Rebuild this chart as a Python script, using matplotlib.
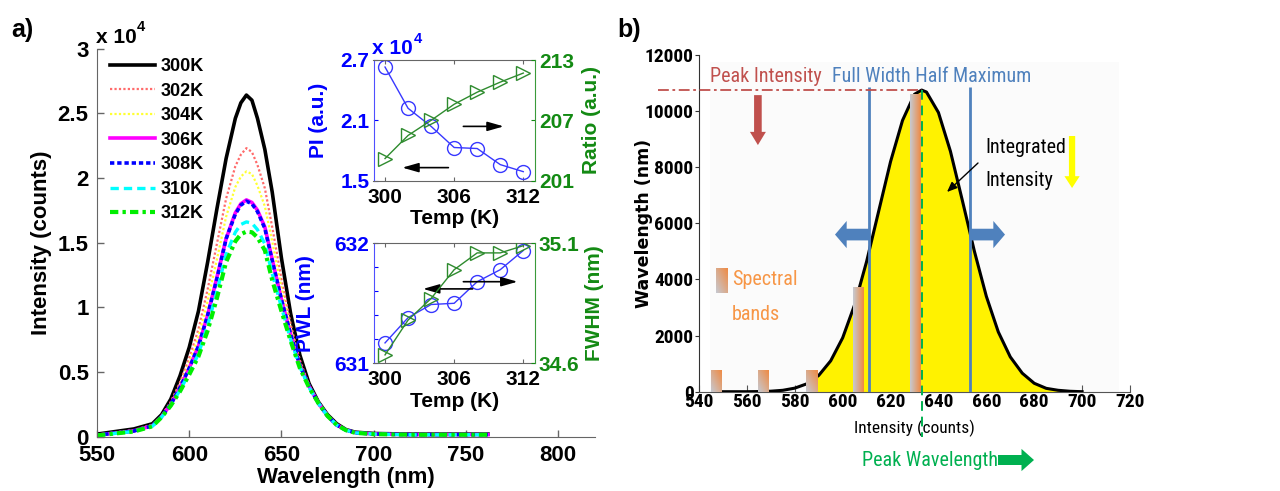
import numpy as np
import matplotlib
matplotlib.use("Agg")
import matplotlib.pyplot as plt
from matplotlib.colors import to_rgb
from matplotlib.patches import Rectangle

plt.rcParams['font.family'] = ['Liberation Sans', 'DejaVu Sans']
plt.rcParams['font.weight'] = 'bold'
plt.rcParams['axes.labelweight'] = 'bold'

# ---------------- Panel a: temperature-dependent PL spectra (x 1e4 counts) ----------------
wavelength = [550, 560, 570, 580, 585, 590, 595, 600, 605, 610, 615, 620, 625, 628, 631,
              634, 637, 641, 645, 650, 655, 660, 665, 670, 675, 680, 685, 690, 700, 720, 740, 762]
spec_300K = [0.020, 0.040, 0.060, 0.100, 0.170, 0.29, 0.47, 0.69, 0.97, 1.35, 1.76, 2.15, 2.46, 2.58, 2.64,
             2.60, 2.46, 2.22, 1.89, 1.38, 0.95, 0.63, 0.41, 0.27, 0.17, 0.100, 0.055, 0.035, 0.025, 0.020, 0.020, 0.020]
spec_302K = [0.016, 0.034, 0.052, 0.092, 0.162, 0.27, 0.42, 0.61, 0.83, 1.14, 1.49, 1.84, 2.09, 2.18, 2.23,
             2.20, 2.10, 1.92, 1.62, 1.22, 0.87, 0.59, 0.40, 0.27, 0.17, 0.100, 0.053, 0.033, 0.023, 0.018, 0.018, 0.018]
spec_304K = [0.014, 0.032, 0.049, 0.089, 0.159, 0.26, 0.40, 0.57, 0.77, 1.05, 1.37, 1.70, 1.93, 2.01, 2.05,
             2.03, 1.94, 1.78, 1.51, 1.15, 0.83, 0.57, 0.39, 0.27, 0.16, 0.090, 0.052, 0.032, 0.022, 0.017, 0.017, 0.017]
spec_306K = [0.012, 0.028, 0.045, 0.085, 0.155, 0.25, 0.38, 0.53, 0.70, 0.94, 1.23, 1.53, 1.73, 1.80, 1.83,
             1.81, 1.75, 1.62, 1.37, 1.06, 0.79, 0.55, 0.39, 0.26, 0.16, 0.090, 0.051, 0.031, 0.021, 0.016, 0.016, 0.016]
spec_308K = [0.012, 0.028, 0.044, 0.084, 0.154, 0.25, 0.38, 0.53, 0.70, 0.94, 1.22, 1.53, 1.72, 1.79, 1.82,
             1.80, 1.74, 1.61, 1.36, 1.06, 0.79, 0.55, 0.39, 0.26, 0.16, 0.090, 0.051, 0.031, 0.021, 0.016, 0.016, 0.016]
spec_310K = [0.011, 0.026, 0.041, 0.081, 0.151, 0.24, 0.36, 0.49, 0.64, 0.86, 1.12, 1.41, 1.58, 1.64, 1.66,
             1.65, 1.60, 1.49, 1.26, 1.00, 0.75, 0.54, 0.38, 0.26, 0.16, 0.090, 0.050, 0.030, 0.020, 0.015, 0.015, 0.015]
spec_312K = [0.010, 0.025, 0.040, 0.080, 0.150, 0.24, 0.35, 0.48, 0.62, 0.82, 1.07, 1.35, 1.51, 1.565, 1.585,
             1.58, 1.54, 1.44, 1.21, 0.97, 0.74, 0.53, 0.38, 0.26, 0.16, 0.090, 0.050, 0.030, 0.020, 0.015, 0.015, 0.015]
spectra = [spec_300K, spec_302K, spec_304K, spec_306K, spec_308K, spec_310K, spec_312K]
spec_labels = ['300K', '302K', '304K', '306K', '308K', '310K', '312K']

# insets: extracted spectral parameters vs temperature
temps = [300, 302, 304, 306, 308, 310, 312]
peak_intensity = [2.63, 2.22, 2.04, 1.83, 1.82, 1.66, 1.59]       # x 1e4
intensity_ratio = [203.2, 205.5, 207.0, 208.6, 209.8, 210.8, 211.7]
peak_wavelength = [631.17, 631.38, 631.49, 631.50, 631.68, 631.78, 631.94]
fwhm_nm = [34.635, 34.78, 34.87, 34.99, 35.06, 35.06, 35.09]

# ---------------- Panel b: schematic of the spectral parameters ----------------
wl_b = [550, 555, 560, 565, 570, 575, 580, 585, 590, 595, 600, 605, 610, 615, 620, 625, 630, 633,
        635, 640, 645, 650, 655, 660, 665, 670, 675, 680, 685, 690, 695, 700]
counts_b = [0, 0, 0, 5, 18, 50, 127, 280, 580, 1100, 1920, 3100, 4640, 6420, 8200, 9670, 10600, 10750,
            10680, 9950, 8570, 6810, 5010, 3400, 2130, 1240, 660, 300, 120, 50, 15, 0]
band_lo = [544.9, 564.7, 584.7, 604.4, 628.0]
band_hi = [549.2, 569.2, 589.3, 608.9, 632.5]
band_height = [750, 750, 750, 3740, 10600]
fwhm_edges = [611, 653]
peak_wl_b = 633
peak_counts_b = 10750
fill_range = (585, 690)

W, H = 1280, 491


def fx(px):
    return px / W


def fy(py):
    return 1 - py / H


fig = plt.figure(figsize=(12.8, 4.91), dpi=100)

# ======================= panel a =======================
ax = fig.add_axes([fx(97), fy(436.7), (595 - 97) / W, (436.7 - 48.5) / H])
styles = [
    dict(color='black', ls='-', lw=2.6),
    dict(color='#ff6b6b', ls=(0, (1, 1)), lw=1.6),
    dict(color='#ffff33', ls=(0, (1, 1)), lw=1.6),
    dict(color='#ff00ff', ls='-', lw=2.6),
    dict(color='#0000ff', ls=(0, (1.2, 0.8)), lw=2.6),
    dict(color='#00ffff', ls=(0, (2.5, 1.5)), lw=2.4),
    dict(color='#00ee00', ls=(0, (2, 1, 0.8, 1)), lw=3.0),
]
for spec, lab, st in zip(spectra, spec_labels, styles):
    ax.plot(wavelength, spec, label=lab, **st)
ax.set_xlim(550, 820)
ax.set_ylim(0, 3)
ax.set_xticks([550, 600, 650, 700, 750, 800])
ax.set_yticks([0, 0.5, 1, 1.5, 2, 2.5, 3])
ax.set_yticklabels(['0', '0.5', '1', '1.5', '2', '2.5', '3'])
ax.tick_params(direction='in', length=5, width=1, color='#666666', labelsize=16, pad=6)
for s in ['top', 'right']:
    ax.spines[s].set_visible(False)
for s in ['left', 'bottom']:
    ax.spines[s].set_color('#666666')
ax.set_xlabel('Wavelength (nm)', fontsize=16, labelpad=1)
ax.set_ylabel('Intensity (counts)', fontsize=16)
ax.yaxis.set_label_coords((52 - 97) / 498, 0.5)
ax.yaxis.label.set_va('bottom')
fig.text(fx(96), fy(43), 'x 10', fontsize=15, va='baseline')
fig.text(fx(137), fy(31), '4', fontsize=10.5, va='baseline')
fig.text(fx(11), fy(37), 'a)', fontsize=18, va='baseline')
ax.legend(loc='upper left', bbox_to_anchor=(fx(110), fy(58)), bbox_transform=fig.transFigure,
          frameon=False, fontsize=13, handlelength=2.5, handletextpad=0.3,
          labelspacing=0.42, borderpad=0, borderaxespad=0)

BLUE = '#0000ff'
GREEN = '#138a13'


def style_inset(a, ar):
    a.set_xlim(299, 313)
    a.set_xticks([300, 306, 312])
    a.tick_params(axis='x', direction='in', length=3, labelsize=15, pad=5, top=True, color='#666666')
    a.tick_params(axis='y', direction='in', length=3, labelsize=15, pad=3, labelcolor=BLUE, color=BLUE)
    ar.tick_params(axis='y', direction='in', length=3, labelsize=15, pad=3, labelcolor=GREEN, color=GREEN)
    a.spines['left'].set_color('#4f4fff')
    a.spines['right'].set_visible(False)
    for s in ['top', 'bottom']:
        a.spines[s].set_color('#666666')
    for s in ['left', 'top', 'bottom']:
        ar.spines[s].set_visible(False)
    ar.spines['right'].set_color('#3a9a3a')
    a.set_xlabel('Temp (K)', fontsize=15, labelpad=2)


arrow_kw = dict(arrowstyle='-|>,head_length=0.7,head_width=0.2', color='black', lw=1.2,
                shrinkA=0, shrinkB=0, mutation_scale=14)

# inset 1: peak intensity & ratio
ax1 = fig.add_axes([fx(373.5), fy(180.7), (534.8 - 373.5) / W, 120.7 / H])
ax1.plot(temps, peak_intensity, color='#3838ff', lw=1, marker='o', ms=10, mfc='none', mew=1)
ax1.set_ylim(1.5, 2.7)
ax1.set_yticks([1.5, 2.1, 2.7])
ax1r = ax1.twinx()
ax1r.plot(temps, intensity_ratio, color='#2e8b2e', lw=1, marker='>', ms=10, mfc='none', mew=1)
ax1r.set_ylim(201, 213)
ax1r.set_yticks([201, 207, 213])
style_inset(ax1, ax1r)
ax1.set_ylabel('PI (a.u.)', fontsize=15, color=BLUE)
ax1.yaxis.set_label_coords((328 - 373.5) / 161.3, 0.5)
ax1r.set_ylabel('Ratio (a.u.)', fontsize=15, color=GREEN)
ax1r.yaxis.set_label_coords((582 - 373.5) / 161.3, 0.5)
ax1.annotate('', xy=(310.3, 2.04), xytext=(306.8, 2.04), arrowprops=arrow_kw)
ax1.annotate('', xy=(301.5, 1.63), xytext=(305.5, 1.63), arrowprops=arrow_kw)
fig.text(fx(372), fy(54), 'x 10', fontsize=15, va='baseline', color=BLUE)
fig.text(fx(414), fy(43), '4', fontsize=10.5, va='baseline', color=BLUE)

# inset 2: peak wavelength & FWHM
ax2 = fig.add_axes([fx(373.5), fy(363.3), (534.8 - 373.5) / W, 120 / H])
ax2.plot(temps, peak_wavelength, color='#3838ff', lw=1, marker='o', ms=10, mfc='none', mew=1)
ax2.set_ylim(631, 632)
ax2.set_yticks([631, 631.2, 631.4, 631.6, 631.8, 632])
ax2.set_yticklabels(['631', '', '', '', '', '632'])
ax2r = ax2.twinx()
ax2r.plot(temps, fwhm_nm, color='#2e8b2e', lw=1, marker='>', ms=10, mfc='none', mew=1)
ax2r.set_ylim(34.6, 35.1)
ax2r.set_yticks([34.6, 35.1])
ax2r.set_yticklabels(['34.6', '35.1'])
style_inset(ax2, ax2r)
ax2.set_ylabel('PWL (nm)', fontsize=15, color=BLUE)
ax2.yaxis.set_label_coords((315 - 373.5) / 161.3, 0.5)
ax2r.set_ylabel('FWHM (nm)', fontsize=15, color=GREEN)
ax2r.yaxis.set_label_coords((585 - 373.5) / 161.3, 0.5)
ax2.annotate('', xy=(311.5, 631.68), xytext=(306.8, 631.68), arrowprops=arrow_kw)
ax2.annotate('', xy=(303.3, 631.62), xytext=(307.6, 631.62), arrowprops=arrow_kw)

# ======================= panel b =======================
NARROW = ['Roboto Condensed', 'DejaVu Sans']
axb = fig.add_axes([fx(699), fy(391.7), 431 / W, 336.7 / H])
axb.add_patch(Rectangle((544.5, 0), 171, 11750, color='#fbfbfb', zorder=0, lw=0))

wl_arr = np.array(wl_b)
cnt_arr = np.array(counts_b)
mask = (wl_arr >= fill_range[0]) & (wl_arr <= fill_range[1])
axb.fill_between(wl_arr[mask], 0, cnt_arr[mask], color='#fff200', lw=0, zorder=2)
axb.plot(wl_b, counts_b, color='black', lw=2.2, zorder=4)

GRAY = np.array(to_rgb('#c6c9d1'))
ORANGE = np.array(to_rgb('#ef8a43'))


def gradient_block(axis, x0, x1, y0, y1, diagonal, **kw):
    u = np.linspace(0, 1, 32)
    U, V = np.meshgrid(u, u)
    t = 0.5 * (U + V) if diagonal else U
    img = GRAY + t[..., None] * (ORANGE - GRAY)
    axis.imshow(img, extent=(x0, x1, y0, y1), origin='lower', aspect='auto',
                interpolation='bilinear', **kw)


for lo, hi, h in zip(band_lo, band_hi, band_height):
    gradient_block(axb, lo, hi, 0, h, h < 1000, zorder=5)
gradient_block(axb, 547.1, 551.7, 3517, 4408, True, zorder=5, clip_on=False)

axb.vlines(fwhm_edges, 0, 10850, color='#4f81bd', lw=2, zorder=6)
axb.plot([522.9, peak_wl_b], [peak_counts_b, peak_counts_b], color='#c0504d', lw=1.3,
         ls=(0, (6, 2, 1.5, 2)), clip_on=False, zorder=6)
axb.plot([peak_wl_b, peak_wl_b], [peak_counts_b, -1620], color='#00b050', lw=1.4,
         ls=(0, (5, 3)), clip_on=False, zorder=7)

axb.set_xlim(540, 720)
axb.set_ylim(0, 12000)
axb.set_xticks(range(540, 721, 20))
axb.set_yticks(range(0, 12001, 2000))
axb.tick_params(axis='x', direction='in', length=5, color='#555555', pad=1,
                labelsize=14, labelfontfamily='Roboto Condensed')
axb.tick_params(axis='y', direction='out', length=3, color='#333333', pad=1,
                labelsize=14, labelfontfamily='Roboto Condensed')
for s in ['top', 'right']:
    axb.spines[s].set_visible(False)
axb.spines['bottom'].set_color('#555555')
axb.spines['left'].set_color('#333333')
axb.set_xlabel('Intensity (counts)', fontsize=12.5, family=NARROW, weight='normal', labelpad=6)
axb.set_ylabel('Wavelength (nm)', fontsize=12.5, weight='bold', family=['DejaVu Sans'])
axb.yaxis.set_label_coords((653 - 699) / 431, 0.5)

# annotation texts
CAL = dict(family=NARROW, weight='normal', fontsize=14.5, va='baseline')
fig.text(fx(617), fy(37), 'b)', fontsize=18, va='baseline')
fig.text(fx(710), fy(82), 'Peak Intensity', color='#c0504d', **CAL)
fig.text(fx(832), fy(82), 'Full Width Half Maximum', color='#4f81bd', **CAL)
fig.text(fx(985), fy(153), 'Integrated', color='black', **CAL)
fig.text(fx(985), fy(186), 'Intensity', color='black', **CAL)
fig.text(fx(732), fy(285), 'Spectral', color='#f79646', **CAL)
fig.text(fx(732), fy(320), 'bands', color='#f79646', **CAL)
fig.text(fx(862), fy(466), 'Peak Wavelength', color='#00b050', **CAL)


def block_arrow(start, end, color, tail, head_w, head_l, scale, coords='data'):
    axb.annotate('', xy=end, xytext=start, xycoords=coords, textcoords=coords,
                 arrowprops=dict(arrowstyle=f'simple,head_length={head_l},head_width={head_w},tail_width={tail}',
                                 color=color, lw=0, shrinkA=0, shrinkB=0, mutation_scale=scale),
                 annotation_clip=False, zorder=8)


block_arrow((564.6, 10570), (564.6, 8790), '#c0504d', 0.55, 1.15, 0.95, 10)
block_arrow((fwhm_edges[0], 5600), (596.8, 5600), '#4f81bd', 0.6, 1.4, 0.6, 14)
block_arrow((fwhm_edges[1], 5600), (667.8, 5600), '#4f81bd', 0.6, 1.4, 0.6, 14)
block_arrow((695.8, 9113), (695.8, 7260), '#ffff00', 0.45, 1.1, 0.85, 10)
block_arrow((998, H - 460), (1034, H - 460), '#00b050', 0.72, 1.6, 0.9, 10, coords='figure pixels')
axb.annotate('', xy=(947, H - 192), xytext=(978, H - 163), xycoords='figure pixels',
             textcoords='figure pixels',
             arrowprops=dict(arrowstyle='-|>,head_length=0.6,head_width=0.25', color='black', lw=1,
                             shrinkA=0, shrinkB=0, mutation_scale=10), zorder=8)

fig.savefig('out.png', dpi=100)
